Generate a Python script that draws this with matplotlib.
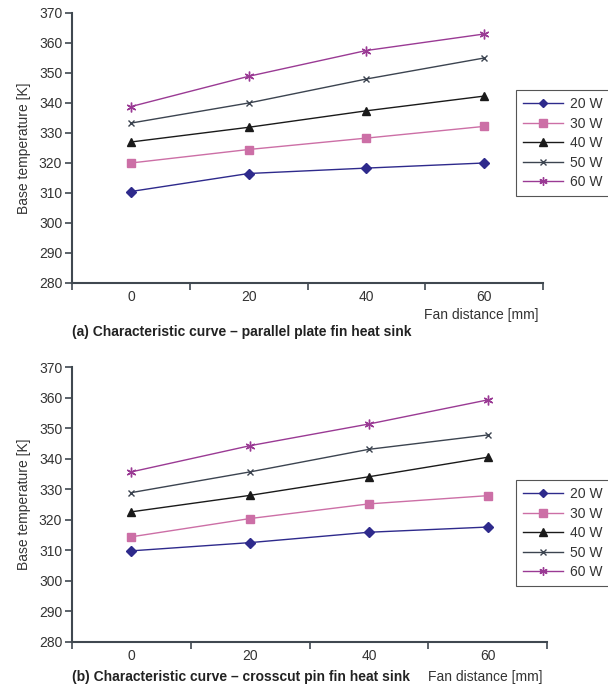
import numpy as np
import matplotlib.pyplot as plt

plt.rcParams['font.family'] = ['Liberation Sans', 'DejaVu Sans']

# fan distance categories [mm]
fan_dist = ['0', '20', '40', '60']
powers = ['20 W', '30 W', '40 W', '50 W', '60 W']

# (a) parallel plate fin heat sink, base temperature [K]
plate_20 = [310.5, 316.5, 318.3, 320.0]
plate_30 = [320.0, 324.5, 328.3, 332.2]
plate_40 = [327.0, 331.9, 337.4, 342.3]
plate_50 = [333.3, 340.0, 348.0, 355.0]
plate_60 = [338.8, 348.9, 357.5, 363.0]

# (b) crosscut pin fin heat sink, base temperature [K]
pin_20 = [309.8, 312.5, 315.9, 317.6]
pin_30 = [314.4, 320.4, 325.2, 327.9]
pin_40 = [322.6, 328.0, 334.1, 340.5]
pin_50 = [328.9, 335.7, 343.1, 347.8]
pin_60 = [335.7, 344.3, 351.4, 359.3]

colors = ['#2e2a8c', '#cc6fa6', '#1a1a1a', '#3c4450', '#9a3a94']
markers = ['D', 's', '^', 'x', (6, 2, 0)]
msizes = [5, 6, 6, 5, 7]
axis_col = '#404850'
text_col = '#333333'

fig = plt.figure(figsize=(6.08, 6.87), dpi=100)
ax1 = fig.add_axes([72/608, 1 - 283/687, 471/608, 270/687])
ax2 = fig.add_axes([72/608, 1 - 641.7/687, 475/608, 274.4/687])

x = np.arange(len(fan_dist))


def draw(ax, series, caption, leg_top, fan_y, cap_y):
    for vals, lab, c, m, s in zip(series, powers, colors, markers, msizes):
        ax.plot(x, vals, color=c, marker=m, markersize=s, linewidth=1.0,
                markeredgewidth=1.0, label=lab)
    ax.set_xlim(-0.5, 3.5)
    ax.set_ylim(280, 370)
    ax.set_yticks(np.arange(280, 371, 10))
    ax.set_xticks(x, fan_dist)
    ax.set_xticks(np.arange(-0.5, 3.6, 1), minor=True)
    ax.tick_params(axis='x', which='major', length=0, pad=5,
                   labelsize=10, labelcolor=text_col)
    ax.tick_params(axis='x', which='minor', length=5, width=1.2,
                   direction='out', color=axis_col)
    ax.tick_params(axis='y', length=5, width=1.2, direction='out',
                   color=axis_col, labelsize=10, labelcolor=text_col, pad=2)
    for side in ['top', 'right']:
        ax.spines[side].set_visible(False)
    for side in ['left', 'bottom']:
        ax.spines[side].set_color(axis_col)
        ax.spines[side].set_linewidth(1.5)
    ax.set_ylabel('Base temperature [K]', fontsize=10, color=text_col,
                  labelpad=6)
    ax.text(0.99, fan_y, 'Fan distance [mm]', transform=ax.transAxes,
            ha='right', va='center', fontsize=10, color=text_col)
    ax.text(0.0, cap_y, caption, transform=ax.transAxes, ha='left',
            va='center', fontsize=10, fontweight='bold', color='#222222')
    leg = ax.legend(loc='upper left', bbox_to_anchor=(516/608, leg_top),
                    bbox_transform=fig.transFigure, borderaxespad=0,
                    fancybox=False, framealpha=1, edgecolor='#555555',
                    fontsize=10, handlelength=2.9, labelspacing=0.4,
                    borderpad=0.5, handletextpad=0.5, markerscale=0.85)
    leg.get_frame().set_linewidth(0.8)
    for t in leg.get_texts():
        t.set_color(text_col)


draw(ax1, [plate_20, plate_30, plate_40, plate_50, plate_60],
     '(a) Characteristic curve \u2013 parallel plate fin heat sink',
     1 - 90/687, -0.12, -0.18)
draw(ax2, [pin_20, pin_30, pin_40, pin_50, pin_60],
     '(b) Characteristic curve \u2013 crosscut pin fin heat sink',
     1 - 480/687, -0.13, -0.13)

fig.savefig('out.png', dpi=100)
